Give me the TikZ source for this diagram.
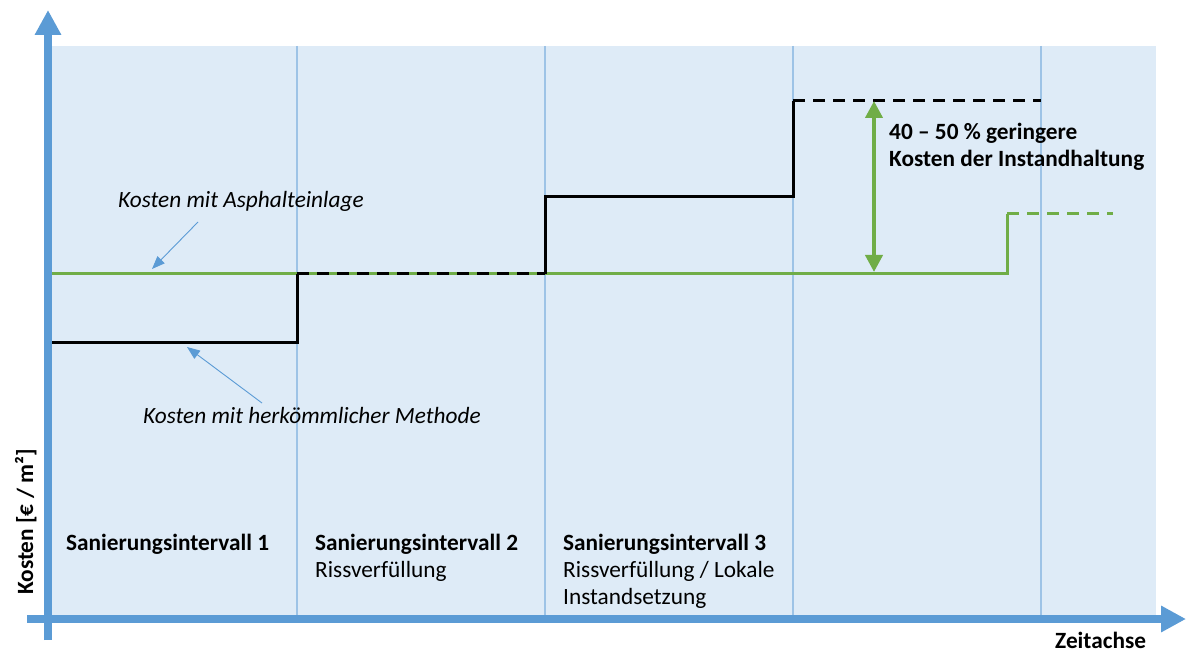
\documentclass[tikz,border=0pt]{standalone}
\usepackage{fontspec}
\setmainfont{Carlito}
\usetikzlibrary{arrows.meta}
\definecolor{bgblue}{HTML}{DEEBF7}
\definecolor{axisblue}{HTML}{5B9BD5}
\definecolor{gridblue}{HTML}{9DC3E6}
\definecolor{costgreen}{HTML}{70AD47}
\tikzset{
  axisline/.style={axisblue, line width=8pt, -{Triangle[width=25pt,length=25pt]}},
  gridline/.style={gridblue, line width=1.2pt},
  greenline/.style={costgreen, line width=3pt},
  blackline/.style={black, line width=3pt},
  dashpat/.style={dash pattern=on 12pt off 8pt},
  pointer/.style={axisblue, line width=0.9pt, -{Triangle[width=10pt,length=13pt]}},
  lbl/.style={inner sep=0pt, anchor=base west, font=\fontsize{23.3}{27}\selectfont},
  lblb/.style={lbl, font=\fontsize{23.3}{27}\selectfont\bfseries},
  lbli/.style={lbl, font=\fontsize{23.3}{27}\selectfont\itshape},
}
\begin{document}
\begin{tikzpicture}[x=1pt,y=-1pt]
\useasboundingbox (0,0) rectangle (1186,652);
% background
\fill[bgblue] (52,46) rectangle (1156,619);
% grid lines
\foreach \gx/\gn in {297/a,545/b,793/c,1041/d}{
  \coordinate (gt\gn) at (\gx,46);
  \coordinate (gb\gn) at (\gx,619);
  \draw[gridline] (gt\gn) -- (gb\gn);
}
% axes
\coordinate (yb) at (48,640);
\coordinate (yt) at (48,10);
\coordinate (xl) at (27,619);
\coordinate (xr) at (1186,619);
\draw[axisline] (yb) -- (yt);
\draw[axisline] (xl) -- (xr);
% green cost line
\coordinate (g0) at (52,274);
\coordinate (g1) at (1007,274);
\coordinate (g2) at (1007,214);
\coordinate (g3) at (1113,214);
\draw[greenline, line join=miter] (g0) -- (g1) -- (g2);
\draw[greenline, dashpat] (g2) -- (g3);
% black cost line
\coordinate (b0) at (52,342);
\coordinate (b1) at (297,342);
\coordinate (b2) at (297,274);
\coordinate (b3) at (545,274);
\coordinate (b4) at (545,197);
\coordinate (b5) at (793,197);
\coordinate (b6) at (793,101);
\coordinate (b7) at (1041,101);
\draw[blackline, line join=miter] (b0) -- (b1) -- (b2);
\draw[blackline, dashpat] (b2) -- (b3);
\draw[blackline, line join=miter] (b3) -- (b4) -- (b5) -- (b6);
\draw[blackline, dashpat] (b6) -- (b7);
% green double arrow
\coordinate (at) at (874,101);
\coordinate (ab) at (874,272);
\draw[costgreen, line width=4pt, {Triangle[width=17pt,length=17pt]}-{Triangle[width=17pt,length=17pt]}] (at) -- (ab);
% labels
\node[lblb] (diff1) at (889,140) {40 -- 50 \% geringere};
\node[lblb] (diff2) at (889,167) {Kosten der Instandhaltung};
\node[lbli] (asph) at (118,208) {Kosten mit Asphalteinlage};
\node[lbli] (herk) at (143,423) {Kosten mit herkömmlicher Methode};
\coordinate (p1s) at (198,222);
\coordinate (p1e) at (152,269);
\coordinate (p2s) at (262,403);
\coordinate (p2e) at (187,347);
\draw[pointer] (p1s) -- (p1e);
\draw[pointer] (p2s) -- (p2e);
\node[lblb] (s1) at (66,550) {Sanierungsintervall 1};
\node[lblb] (s2) at (315,550) {Sanierungsintervall 2};
\node[lbl] (s2b) at (315,577) {Rissverfüllung};
\node[lblb] (s3) at (563,550) {Sanierungsintervall 3};
\node[lbl] (s3b) at (563,577) {Rissverfüllung / Lokale};
\node[lbl] (s3c) at (563,604) {Instandsetzung};
\node[lblb] (xlab) at (1055,648) {Zeitachse};
\node[lblb, rotate=90] (ylab) at (33,595) {Kosten [€ / m²]};
\end{tikzpicture}
\end{document}
